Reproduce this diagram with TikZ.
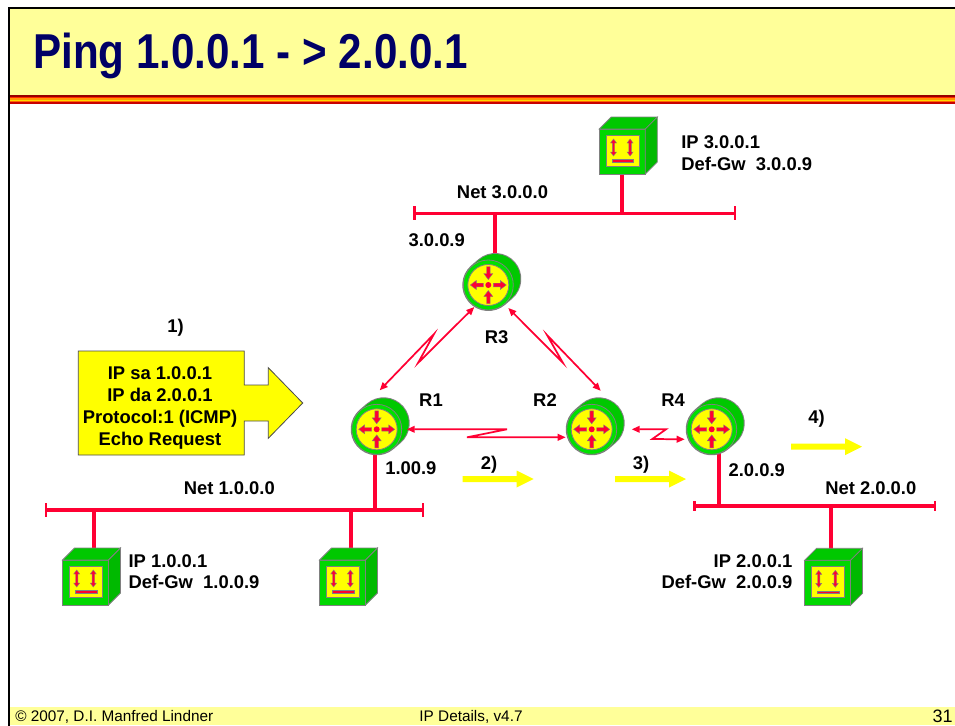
\documentclass[tikz,border=0pt]{standalone}
\usepackage{fontspec}
\setmainfont{Liberation Sans}
\newfontfamily\titlefont[FakeStretch=0.86]{Liberation Sans}
\usetikzlibrary{arrows.meta,calc}
\definecolor{netred}{RGB}{255,0,51}
\definecolor{slideyellow}{RGB}{255,255,153}
\definecolor{titleblue}{RGB}{0,0,102}
\definecolor{iconyellow}{RGB}{255,255,0}
\definecolor{icongray}{RGB}{128,128,128}
\definecolor{rfront}{RGB}{0,225,0}
\definecolor{rback}{RGB}{0,200,0}
\definecolor{hfront}{RGB}{0,215,0}
\definecolor{htop}{RGB}{0,200,0}
\definecolor{hside}{RGB}{0,185,0}
\definecolor{stripeA}{RGB}{150,0,0}
\definecolor{stripeB}{RGB}{255,40,0}
\definecolor{stripeC}{RGB}{255,150,0}
\definecolor{stripeD}{RGB}{255,215,0}
\definecolor{stripeE}{RGB}{255,100,0}
\definecolor{stripeF}{RGB}{200,0,0}
\tikzset{
  lbl/.style={font=\fontsize{13.8pt}{16.5pt}\selectfont\bfseries, inner sep=0pt, text height=9.9pt, text depth=0pt},
  footlbl/.style={font=\fontsize{11.5pt}{13pt}\selectfont, inner sep=0pt, text height=8.2pt, text depth=0pt},
  netline/.style={draw=netred, line width=2.5pt},
  nettick/.style={draw=netred, line width=1.8pt},
  drop/.style={draw=netred, line width=3pt},
  link/.style={draw=netred, line width=1.3pt, line join=miter,
    arrows={Triangle[length=6pt,width=5pt]-Triangle[length=6pt,width=5pt]}},
  rtrnode/.style={circle, minimum size=37.5pt, inner sep=0pt},
  hostnode/.style={rectangle, minimum width=34.5pt, minimum height=33.75pt, inner sep=0pt},
  pics/rarrow/.style={code={
    \filldraw[fill=netred, draw=icongray, line width=0.3pt]
      (0,-1.8) -- (7,-1.8) -- (7,-4.5) -- (13,0) -- (7,4.5) -- (7,1.8) -- (0,1.8) -- cycle;
  }},
  pics/router/.style={code={
    \draw[icongray, line width=39pt, line cap=round] (0,0) -- (7,-6);
    \draw[rback, line width=37.5pt, line cap=round] (0,0) -- (7,-6);
    \filldraw[fill=rfront, draw=icongray, line width=0.6pt] (0,0) circle[radius=25];
    \filldraw[fill=iconyellow, draw=icongray, line width=0.6pt] (0,0) circle[radius=20.5];
    \pic at (5,0) {rarrow};
    \pic[rotate=180] at (-5,0) {rarrow};
    \pic[rotate=-90] at (0,-18.5) {rarrow};
    \pic[rotate=90] at (0,18.5) {rarrow};
    \fill[netred] (0,0) circle[radius=3];
  }},
  pics/host/.style={code={
    \filldraw[fill=hfront, draw=icongray, line width=0.6pt] (-23,-22.5) rectangle (23,22.5);
    \filldraw[fill=htop, draw=icongray, line width=0.6pt] (-23,-22.5) -- (-11,-34.5) -- (35,-34.5) -- (23,-22.5) -- cycle;
    \filldraw[fill=hside, draw=icongray, line width=0.6pt] (23,-22.5) -- (35,-34.5) -- (35,10.5) -- (23,22.5) -- cycle;
    \filldraw[fill=iconyellow, draw=icongray, line width=0.6pt] (-16.2,-16.5) rectangle (16.8,14.8);
    \foreach \c in {-8.8,7.8}{
      \filldraw[fill=netred, draw=icongray, line width=0.3pt]
        (\c,-12.5) -- ++(3,4) -- ++(-1.8,0) -- ++(0,9) -- ++(1.8,0) -- (\c,4.5)
        -- ++(-3,-4) -- ++(1.8,0) -- ++(0,-9) -- ++(-1.8,0) -- cycle;
    }
    \filldraw[fill=netred, draw=icongray, line width=0.3pt] (-10.5,8) rectangle (11.2,10.6);
  }},
  pics/flowarrow/.style={code={
    \fill[iconyellow] (0,-3) -- (54,-3) -- (54,-8.5) -- (71,0) -- (54,8.5) -- (54,3) -- (0,3) -- cycle;
  }},
}
\begin{document}
\begin{tikzpicture}[x=0.75pt,y=-0.75pt]
\useasboundingbox (0,0) rectangle (955,725);
\fill[white] (0,0) rectangle (955,725);
% slide frame, title and footer
\fill[slideyellow] (10,9) rectangle (955,95);
\fill[stripeA] (10,95) rectangle (955,96.5);
\fill[stripeB] (10,96.5) rectangle (955,98);
\fill[stripeC] (10,98) rectangle (955,99.5);
\fill[stripeD] (10,99.5) rectangle (955,101);
\fill[stripeE] (10,101) rectangle (955,102.2);
\fill[stripeF] (10,102.2) rectangle (955,103.5);
\fill[slideyellow] (10,707) rectangle (955,725);
\draw[black, line width=1.5pt] (9,727) -- (9,8) -- (957,8);
\node[anchor=base west, inner sep=0pt, text=titleblue, font=\titlefont\bfseries\fontsize{36.75pt}{40pt}\selectfont] (title) at (33,68) {Ping 1.0.0.1 - > 2.0.0.1};
\node[footlbl, anchor=west] (foot1) at (15,716) {© 2007, D.I. Manfred Lindner};
\node[footlbl] (foot2) at (471,716) {IP Details, v4.7};
\node[footlbl, anchor=east, font=\fontsize{13.5pt}{15pt}\selectfont, text height=9.6pt] (foot3) at (953,716) {31};

% node placeholders
\node[rtrnode] (R1) at (376.7,429.3) {};
\node[rtrnode] (R2) at (591.7,429.3) {};
\node[rtrnode] (R3) at (488.3,285) {};
\node[rtrnode] (R4) at (711.7,429.3) {};
\node[hostnode] (H1) at (85.5,582.5) {};
\node[hostnode] (H2) at (342.5,582.5) {};
\node[hostnode] (H3) at (622.3,151.5) {};
\node[hostnode] (H4) at (827.5,582.8) {};

% networks
\coordinate (N1w) at (46,510);   \coordinate (N1e) at (422.7,510);
\coordinate (N2w) at (694.3,506); \coordinate (N2e) at (935,506);
\coordinate (N3w) at (414.3,213.3); \coordinate (N3e) at (735,213.3);
\draw[netline] (N1w) -- (N1e);
\draw[netline] (N2w) -- (N2e);
\draw[netline] (N3w) -- (N3e);
\draw[nettick] (N1w) ++(0,-7) -- ++(0,14);
\draw[nettick] (N1e) ++(0,-7) -- ++(0,14);
\draw[nettick] (N2w) ++(0,-5) -- ++(0,10);
\draw[nettick] (N2e) ++(0,-5) -- ++(0,10);
\draw[nettick] (N3w) ++(0,-7) -- ++(0,14);
\draw[nettick] (N3e) ++(0,-7) -- ++(0,14);

% drops
\coordinate (d1) at (94.3,510);
\coordinate (d2) at (350.7,510);
\coordinate (d4) at (830.7,506);
\coordinate (dr1) at (375,510);
\coordinate (dr3) at (495,213.3);
\coordinate (dr4) at (719,506);
\draw[drop] (d1) -- (d1 |- H1.north);
\draw[drop] (d2) -- (d2 |- H2.north);
\draw[drop] (d4) -- (d4 |- H4.north);
\draw[drop] (H3.center) -- (H3.center |- N3w);
\draw[drop] (dr1) -- (dr1 |- R1.center);
\draw[drop] (dr3) -- (dr3 |- R3.center);
\draw[drop] (dr4) -- (dr4 |- R4.center);

% icons
\pic at (R1) {router};
\pic at (R2) {router};
\pic at (R3) {router};
\pic at (R4) {router};
\pic at (H1) {host};
\pic at (H2) {host};
\pic at (H3) {host};
\pic at (H4) {host};

% serial links
\draw[link] ($(R1)+(3,-39)$) -- (434,334) -- (418,363) -- ($(R3)+(-14,22)$);
\draw[link] ($(R3)+(20,23)$) -- (563,363) -- (547,335) -- ($(R2)+(9,-38.5)$);
\draw[link] ($(R1)+(30,0)$) -- (507,429.3) -- (467,437.3) -- ($(R2)+(-26,8)$);
\draw[link] ($(R2)+(40,0)$) -- (666,429.3) -- (652.3,439) -- ($(R4)+(-27,10)$);

% callout
\filldraw[fill=iconyellow, draw=black!70, line width=0.6pt]
  (78.3,351) -- (244.3,351) -- (244.3,385) -- (268.3,385) -- (268.3,367.7) -- (302.7,403)
  -- (268.3,438.3) -- (268.3,421) -- (244.3,421) -- (244.3,455) -- (78.3,455) -- cycle;
\node[lbl, align=center, text height=, text depth=] (callout) at (160,408)
  {IP sa 1.0.0.1\\IP da 2.0.0.1\\Protocol:1 (ICMP)\\Echo Request};

% flow arrows
\pic at (462.7,479) {flowarrow};
\pic at (615,479) {flowarrow};
\pic at (791,446.7) {flowarrow};

% labels
\node[lbl, anchor=west] (ip3) at (681,141.7) {IP 3.0.0.1};
\node[lbl, anchor=west] (gw3) at (681,164.3) {Def-Gw\ \ 3.0.0.9};
\node[lbl, anchor=west] (net3) at (456.7,191.7) {Net 3.0.0.0};
\node[lbl, anchor=west] (a3009) at (408.3,240) {3.0.0.9};
\node[lbl] (lr3) at (496.7,336.7) {R3};
\node[lbl] (lr1) at (431,400) {R1};
\node[lbl] (lr2) at (545,400) {R2};
\node[lbl] (lr4) at (673,400) {R4};
\node[lbl, anchor=west] (s1) at (167,326) {1)};
\node[lbl, anchor=west] (s2) at (480.7,463.3) {2)};
\node[lbl, anchor=west] (s3) at (632.7,463.3) {3)};
\node[lbl, anchor=west] (s4) at (808,416.7) {4)};
\node[lbl, anchor=west] (a1009) at (385,468.3) {1.00.9};
\node[lbl, anchor=west] (a2009) at (728.3,470) {2.0.0.9};
\node[lbl, anchor=west] (net2) at (825,488.3) {Net 2.0.0.0};
\node[lbl, anchor=west] (net1) at (183.5,488) {Net 1.0.0.0};
\node[lbl, anchor=west] (ip1) at (128.3,560.7) {IP 1.0.0.1};
\node[lbl, anchor=west] (gw1) at (128.3,581.7) {Def-Gw\ \ 1.0.0.9};
\node[lbl, anchor=east] (ip2) at (792.7,560.7) {IP 2.0.0.1};
\node[lbl, anchor=east] (gw2) at (792.7,581.7) {Def-Gw\ \ 2.0.0.9};
\end{tikzpicture}
\end{document}
